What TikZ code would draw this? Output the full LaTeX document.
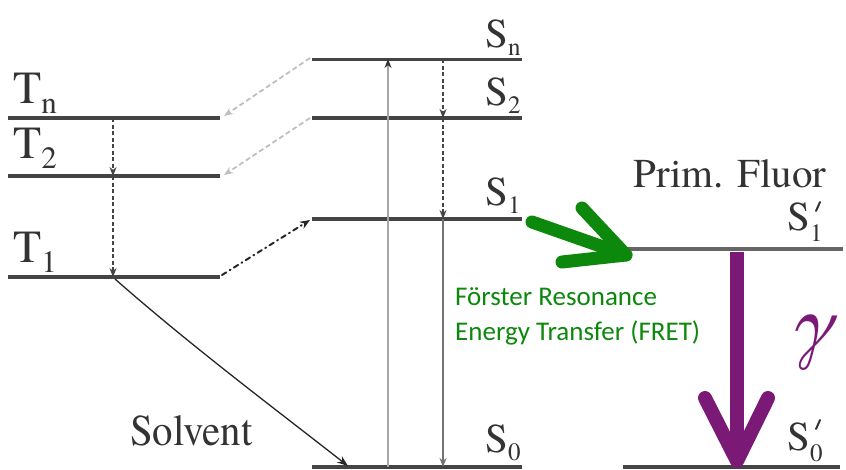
\documentclass[tikz,border=0pt]{standalone}
\usepackage{fontspec}
\setmainfont{texgyretermes}[Extension=.otf,UprightFont=*-regular,ItalicFont=*-italic,BoldFont=*-bold,BoldItalicFont=*-bolditalic]
\newfontfamily\fretfont{Carlito}
\usetikzlibrary{arrows.meta}
\definecolor{lvlgray}{HTML}{444444}
\definecolor{txtgray}{HTML}{333333}
\definecolor{fretgreen}{RGB}{12,136,12}
\definecolor{gampurple}{RGB}{122,26,118}
\newcommand\Tlab[2]{{\fontsize{46}{46}\selectfont #1\raisebox{-10pt}{\fontsize{31}{31}\selectfont #2}}}
\newcommand\Slab[2]{{\fontsize{41}{41}\selectfont #1\raisebox{-8pt}{\fontsize{25}{25}\selectfont #2}}}
\newcommand\Plab[2]{{\fontsize{41}{41}\selectfont #1\raisebox{-11pt}{\fontsize{25}{25}\selectfont #2}}}
\begin{document}
\begin{tikzpicture}[x=1pt,y=-1pt,
  level/.style={draw=lvlgray,line width=4pt},
  lab/.style={anchor=base west,inner sep=0pt,text=txtgray},
  primemark/.style={draw=txtgray,line width=2pt,line cap=round},
  relax/.style={draw=lvlgray,line width=2.2pt,dash pattern=on 4pt off 2.5pt,-{Stealth[length=9pt,width=7pt]}},
  isc/.style={draw=black!25,line width=1.8pt,dash pattern=on 5pt off 3pt,-{Stealth[length=9pt,width=7pt]}},
  fatarrow/.style={line width=13pt,line cap=round,line join=round}]
\useasboundingbox (0,0) rectangle (846,469);
% level end points
\coordinate (TnL) at (8,118);   \coordinate (TnR) at (220,118);
\coordinate (T2L) at (8,176);   \coordinate (T2R) at (220,176);
\coordinate (T1L) at (8,277);   \coordinate (T1R) at (220,277);
\coordinate (SnL) at (312,59);  \coordinate (SnR) at (522,59);
\coordinate (S2L) at (312,118); \coordinate (S2R) at (522,118);
\coordinate (S1L) at (312,219); \coordinate (S1R) at (522,219);
\coordinate (S0L) at (312,467); \coordinate (S0R) at (522,467);
\coordinate (P1L) at (623,249); \coordinate (P1R) at (843,249);
\coordinate (P0L) at (623,467); \coordinate (P0R) at (840,467);
% levels
\draw[level] (TnL) -- (TnR);
\draw[level] (T2L) -- (T2R);
\draw[level] (T1L) -- (T1R);
\draw[level,line width=3pt] (SnL) -- (SnR);
\draw[level] (S2L) -- (S2R);
\draw[level] (S1L) -- (S1R);
\draw[level] (S0L) -- (S0R);
\draw[level,draw=black!60] (P1L) -- (P1R);
\draw[level] (P0L) -- (P0R);
% vertical transitions
\coordinate (tA) at (113,118); \coordinate (tB) at (113,176); \coordinate (tC) at (113,277);
\draw[relax] (tA) -- (tB);
\draw[relax] (tB) -- (tC);
\coordinate (sA) at (443,59); \coordinate (sB) at (443,118); \coordinate (sC) at (443,219); \coordinate (sD) at (443,467);
\draw[relax] (sA) -- (sB);
\draw[relax] (sB) -- (sC);
\draw[draw=black!55,line width=2.5pt,-{Stealth[length=9pt,width=7pt]}] (sC) -- (sD);
\coordinate (uA) at (388,467); \coordinate (uB) at (388,59);
\draw[draw=black!35,line width=1.6pt,-{Stealth[length=9pt,width=7pt,color=black!80]}] (uA) -- (uB);
% intersystem crossings
\coordinate (iSn) at (310,58); \coordinate (iTn) at (224,116);
\coordinate (iS2) at (310,118); \coordinate (iT2) at (224,175);
\draw[isc] (iSn) -- (iTn);
\draw[isc] (iS2) -- (iT2);
\coordinate (iT1) at (222,275); \coordinate (iS1) at (310,220);
\draw[draw=black!85,line width=2pt,line cap=round,dash pattern=on 5pt off 4pt on 1pt off 4pt,-{Stealth[length=10pt,width=8pt]}] (iT1) -- (iS1);
% solvent quench
\coordinate (qA) at (115,279); \coordinate (qB) at (348,466);
\draw[draw=black!85,line width=1.3pt,-{Stealth[length=11pt,width=8pt]}] (qA) .. controls (190,345) and (270,405) .. (qB);
% FRET arrow
\coordinate (gS) at (532,222); \coordinate (gT) at (626,255);
\coordinate (gA) at (582,208); \coordinate (gB) at (562,262);
\draw[fatarrow,draw=fretgreen] (gS) -- (gT);
\draw[fatarrow,draw=fretgreen] (gA) -- (gT) -- (gB);
% photon arrow
\coordinate (pS) at (737,252); \coordinate (pT) at (737,461);
\coordinate (pA) at (705,398); \coordinate (pB) at (768,398);
\draw[fatarrow,draw=gampurple,line width=14pt,line cap=butt] (pS) -- (pT);
\draw[fatarrow,draw=gampurple,line width=14pt] (pA) -- (pT) -- (pB);
% labels
\node[lab] (lTn) at (13,103) {\Tlab{T}{n}};
\node[lab] (lT2) at (13,158) {\Tlab{T}{2}};
\node[lab] (lT1) at (13,262) {\Tlab{T}{1}};
\node[lab] (lSn) at (485,47) {\Slab{S}{n}};
\node[lab] (lS2) at (485,105) {\Slab{S}{2}};
\node[lab] (lS1) at (485,205) {\Slab{S}{1}};
\node[lab] (lS0) at (485,452) {\Slab{S}{0}};
\node[lab] (lPF) at (633,187) {\fontsize{41}{41}\selectfont Prim. Fluor};
\node[lab] (lP1) at (787,230) {\Plab{S}{1}};
\node[lab] (lP0) at (787,450) {\Plab{S}{0}};
\draw[primemark] ([shift={(29,-19)}]lP1.base west) -- ([shift={(33,-28)}]lP1.base west);
\draw[primemark] ([shift={(29,-21)}]lP0.base west) -- ([shift={(33,-30)}]lP0.base west);
\node[lab,xscale=0.93,transform shape] (lSol) at (130,445) {\fontsize{44}{44}\selectfont Solvent};
\node[lab,text=fretgreen] (fret1) at (455,305) {\fretfont\fontsize{27}{27}\selectfont Förster Resonance};
\node[lab,text=fretgreen] (fret2) at (455,340) {\fretfont\fontsize{27}{27}\selectfont Energy Transfer (FRET)};
\node[lab,text=gampurple] (gam) at (787,350) {\fontsize{80}{80}\selectfont\itshape γ};
\end{tikzpicture}
\end{document}
